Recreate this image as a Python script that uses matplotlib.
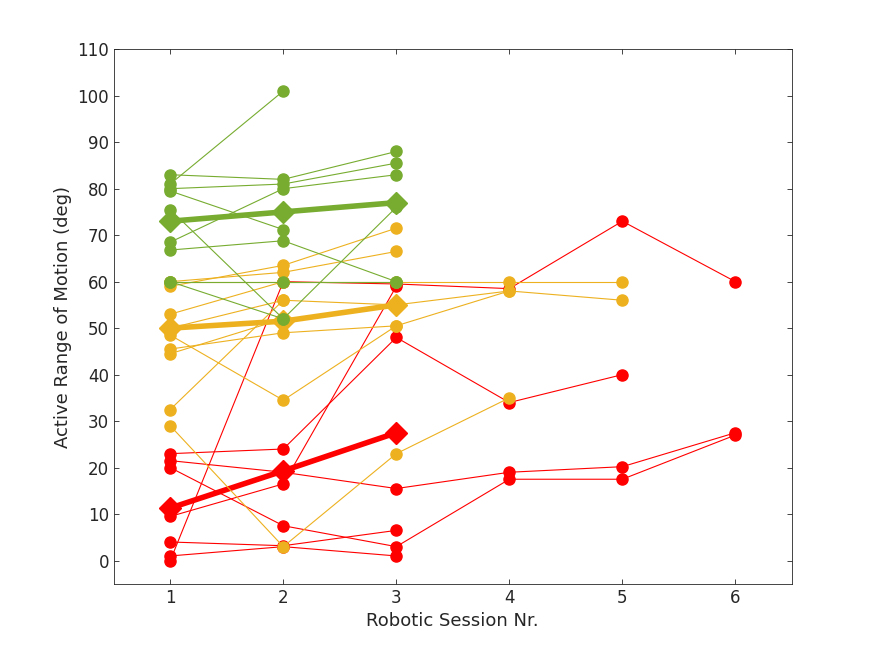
import matplotlib.pyplot as plt

green = "#77AC30"
yellow = "#EDB120"
red = "#FF0000"

green_series = [
    [81, 101],
    [83, 82, 88],
    [80, 81, 85.5],
    [79.5, 71.2],
    [75.5, 52],
    [68.5, 80, 83],
    [66.8, 68.8, 60],
    [60, 52, 76],
    [60, 60, 60],
]
green_mean = [73, 75, 77]

yellow_series = [
    [59, 63.5, 71.5],
    [60, 62, 66.5],
    [60, 60, 60, 60, 60],
    [53, 60],
    [50, 56, 55, 58, 56],
    [45.5, 49, 50.5, 58],
    [44.5, 52],
    [32.5, 56],
    [48.5, 34.5, 50.5],
    [29, 3, 23, 35],
]
yellow_mean = [50, 51.5, 55]

red_series = [
    [0, 60, 59.5, 58.5, 73, 60],
    [9.5, 16.5, 59],
    [23, 24, 48, 34, 40],
    [21.5, 19, 15.5, 19, 20.2, 27.5],
    [20, 7.5, 3, 17.5, 17.5, 27],
    [4, 3.2, 6.5],
    [1, 3, 1],
]
red_mean = [11.3, 19.3, 27.5]

fig, ax = plt.subplots(figsize=(8.75, 6.56), dpi=100)

# red first so the green/yellow dots sit on top like the original
for series, col, mean in [(red_series, red, red_mean),
                          (yellow_series, yellow, yellow_mean),
                          (green_series, green, green_mean)]:
    for s in series:
        ax.plot(range(1, len(s) + 1), s, "-o", color=col, lw=0.8, ms=8)
    ax.plot(range(1, len(mean) + 1), mean, "-D", color=col, lw=4, ms=11)

ax.set_xlim(0.5, 6.5)
ax.set_ylim(-5, 110)
ax.set_xticks(range(1, 7))
ax.set_yticks(range(0, 111, 10))
ax.tick_params(direction="in", labelsize=12, top=True, right=True,
               colors="#262626", width=0.6)
for sp in ax.spines.values():
    sp.set_color("#262626")
    sp.set_linewidth(0.6)
ax.set_xlabel("Robotic Session Nr.", fontsize=13, color="#262626")
ax.set_ylabel("Active Range of Motion (deg)", fontsize=13, color="#262626")
fig.subplots_adjust(left=0.13, right=0.905, top=0.925, bottom=0.11)
fig.savefig("out.png")
